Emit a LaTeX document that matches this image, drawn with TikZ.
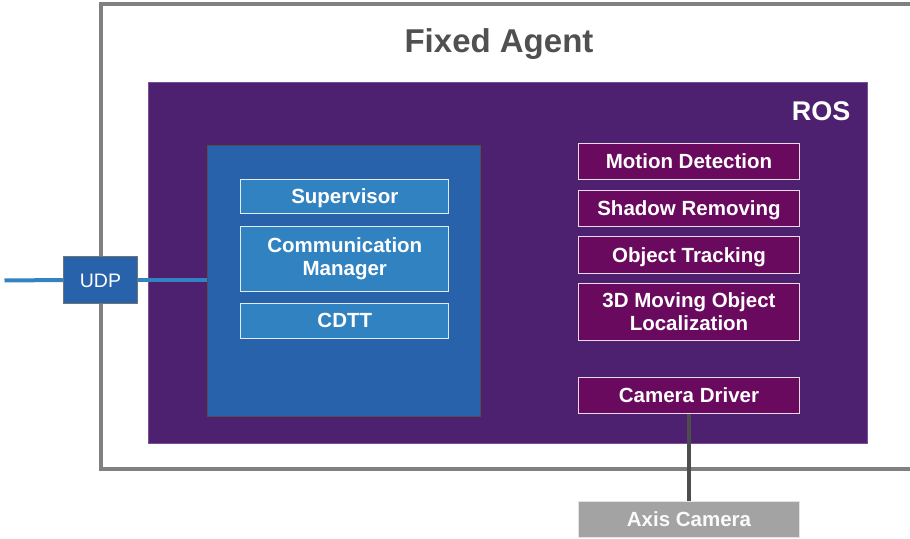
\documentclass[tikz,border=0pt]{standalone}
\usepackage{fontspec}
\setmainfont{Liberation Sans}
\definecolor{framegray}{HTML}{808080}
\definecolor{rospurple}{HTML}{4E2170}
\definecolor{rosedge}{HTML}{7A4F98}
\definecolor{coreblue}{HTML}{2862AA}
\definecolor{innerblue}{HTML}{3182C0}
\definecolor{plum}{HTML}{6A0A5E}
\definecolor{titlegray}{HTML}{505050}
\definecolor{camgray}{HTML}{A3A3A3}
\definecolor{wireblue}{HTML}{3383C2}
\definecolor{darkwire}{HTML}{4D4D4D}
\pgfdeclarelayer{bg}
\pgfdeclarelayer{mid}
\pgfsetlayers{bg,mid,main}
\tikzset{
  box/.style={rectangle, inner sep=0pt, outer sep=0pt, line width=1pt,
    text=white, align=center,
    font=\fontsize{20.5}{23}\selectfont\bfseries},
  oneline/.style={text height=15pt, text depth=0.5pt},
  innerbox/.style={box, fill=innerblue, draw=white!85!innerblue},
  plumbox/.style={box, fill=plum, draw=white!85!plum},
}
\begin{document}
\begin{tikzpicture}[x=1pt,y=-1pt]
\useasboundingbox (0,0) rectangle (910,538);
\begin{pgfonlayer}{bg}
  \node[draw=framegray, line width=4pt, inner sep=0pt, outer sep=0pt,
        minimum width=811pt, minimum height=464.8pt] (frame) at (506,236.1) {};
  \node[draw=rosedge, fill=rospurple, line width=1pt, inner sep=0pt, outer sep=0pt,
        minimum width=719pt, minimum height=361pt] (ros) at (507.5,262.5) {};
\end{pgfonlayer}
\node[font=\fontsize{33}{38}\selectfont\bfseries, text=titlegray] (title) at (499,44.5) {Fixed Agent};
\node[font=\fontsize{27}{30}\selectfont\bfseries, text=white] (roslabel) at (821,111) {ROS};
% core box
\node[draw=titlegray, fill=coreblue, line width=1pt, inner sep=0pt, outer sep=0pt,
      minimum width=273pt, minimum height=271pt] (core) at (344,280.5) {};
\node[innerbox, oneline, minimum width=208pt, minimum height=34.5pt] (sup) at (344.8,196.5) {Supervisor};
\node[innerbox, minimum width=208pt, minimum height=65pt] (comm) at (344.8,258.5) {Communication\\Manager};
\node[innerbox, oneline, minimum width=208pt, minimum height=35pt] (cdtt) at (344.8,320.5) {CDTT};
% UDP
\node[box, oneline, fill=coreblue, draw=framegray!90!black, font=\fontsize{19.5}{23}\selectfont,
      minimum width=74pt, minimum height=47pt] (udp) at (100.5,280) {UDP};
\coordinate (wirestart) at (4.5,280.5);
% right column
\node[plumbox, oneline, minimum width=221.5pt, minimum height=36.5pt] (md) at (689,161.6) {Motion Detection};
\node[plumbox, oneline, minimum width=221.5pt, minimum height=36.5pt] (sr) at (689,208.4) {Shadow Removing};
\node[plumbox, oneline, minimum width=221.5pt, minimum height=36.5pt] (ot) at (689,255) {Object Tracking};
\node[plumbox, minimum width=221.5pt, minimum height=57pt] (loc) at (689,312) {3D Moving Object\\Localization};
\node[plumbox, oneline, minimum width=221.5pt, minimum height=36.5pt] (cd) at (689,395.5) {Camera Driver};
\node[box, oneline, fill=camgray, draw=white!70!camgray, text=white!95!camgray,
      minimum width=221.5pt, minimum height=36pt] (axis) at (689,519) {Axis Camera};
% wires
\begin{pgfonlayer}{mid}
  \draw[wireblue, line width=4pt] (wirestart) -- (udp.west);
  \draw[wireblue, line width=4pt] (udp.east) -- (core.west |- udp.east);
  \draw[darkwire, line width=4pt] (cd.south) -- (axis.north);
\end{pgfonlayer}
\end{tikzpicture}
\end{document}
